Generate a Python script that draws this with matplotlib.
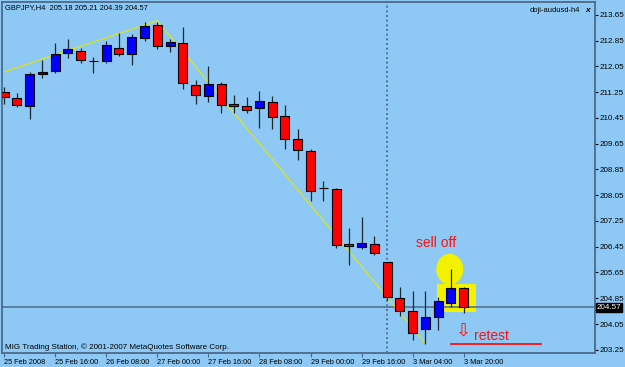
import matplotlib
matplotlib.use("Agg")
import matplotlib.pyplot as plt
from matplotlib.patches import Ellipse, Rectangle

plt.rcParams['font.family'] = ['Liberation Sans', 'DejaVu Sans']

# GBPJPY H4 candles
opens = [211.27, 211.08, 210.82, 211.81, 211.92, 212.46, 212.52, 212.23, 212.23, 212.62,
         212.43, 212.93, 213.34, 212.67, 212.77, 211.48, 211.14, 211.50, 210.88, 210.82,
         210.75, 210.96, 210.50, 209.79, 209.42, 208.27, 208.25, 206.53, 206.45, 206.53,
         205.97, 204.87, 204.44, 203.90, 204.28, 204.70, 205.18]
highs = [211.41, 211.23, 211.88, 212.25, 212.79, 212.90, 212.63, 212.35, 212.85, 213.08,
         213.06, 213.44, 213.44, 212.90, 213.27, 211.63, 212.07, 211.57, 211.17, 211.10,
         211.29, 211.13, 210.85, 210.11, 209.48, 208.49, 208.27, 207.03, 207.37, 206.79,
         205.98, 205.21, 205.06, 205.06, 204.90, 205.75, 205.21]
lows = [210.89, 210.79, 210.43, 211.70, 211.86, 212.31, 212.17, 211.86, 212.17, 212.38,
        212.10, 212.85, 212.58, 212.49, 211.34, 210.88, 210.93, 210.60, 210.60, 210.60,
        210.13, 210.10, 209.48, 209.15, 207.88, 207.88, 206.40, 205.89, 206.38, 206.20,
        204.80, 204.30, 203.54, 203.43, 203.87, 204.59, 204.39]
closes = [211.09, 210.86, 211.80, 211.88, 212.42, 212.59, 212.24, 212.23, 212.72, 212.43,
          212.97, 213.32, 212.67, 212.80, 211.53, 211.17, 211.50, 210.86, 210.82, 210.70,
          210.99, 210.49, 209.79, 209.44, 208.19, 208.27, 206.51, 206.48, 206.56, 206.27,
          204.90, 204.46, 203.77, 204.28, 204.75, 205.16, 204.57]

time_pos = [0, 4, 8, 12, 16, 20, 24, 28, 32, 36]
time_labels = ["25 Feb 2008", "25 Feb 16:00", "26 Feb 08:00", "27 Feb 00:00", "27 Feb 16:00",
               "28 Feb 08:00", "29 Feb 00:00", "29 Feb 16:00", "3 Mar 04:00", "3 Mar 20:00"]
price_ticks = [213.65, 212.85, 212.05, 211.25, 210.45, 209.65, 208.85, 208.05,
               207.25, 206.45, 205.65, 204.85, 204.05, 203.25]

# hand drawn trend line (bar index, price)
trend_x = [-0.1, 12, 33]
trend_y = [211.87, 213.47, 203.45]

bg = '#8dc9f4'
frame = '#4a6a8a'

fig = plt.figure(figsize=(6.25, 3.67), dpi=100, facecolor=bg)
ax = fig.add_axes([2 / 625, 14 / 367, 593 / 625, 351 / 367], facecolor=bg)
ax.set_xlim(-0.16, 46.28)
ax.set_ylim(203.15, 214.05)

# yellow highlight behind the last two candles
ax.add_patch(Rectangle((33.93, 204.41), 3.03, 0.88, facecolor='#f2f200', edgecolor='none', zorder=1))
ax.add_patch(Ellipse((34.9, 205.75), 2.11, 0.96, facecolor='#f2f200', edgecolor='none', zorder=1))

ax.axhline(closes[-1], color=frame, lw=1.1, zorder=2)
ax.axvline(30, color=frame, lw=1.2, ls=(0, (1.2, 1.6)), zorder=2)
ax.plot(trend_x, trend_y, color='#e6e600', lw=0.8, zorder=2)

for i in range(len(opens)):
    o, h, l, c = opens[i], highs[i], lows[i], closes[i]
    ax.vlines(i, l, h, color='#1e2630', lw=0.9, zorder=3)
    if c > o:
        col = '#0000ff'
    elif c < o:
        col = '#ff0000'
    else:
        col = 'black'
    ax.bar(i, abs(c - o), bottom=min(o, c), width=0.7, color=col,
           edgecolor='black', linewidth=0.8, zorder=4)

for s in ax.spines.values():
    s.set_color(frame)
    s.set_linewidth(1.3)

ax.yaxis.tick_right()
ax.set_yticks(price_ticks)
ax.set_yticklabels([f"{v:.2f}" for v in price_ticks])
ax.tick_params(axis='y', length=2, width=0.8, color='black', pad=1, labelsize=5.8, labelcolor='black')
ax.set_xticks(time_pos)
ax.set_xticklabels(time_labels)
ax.tick_params(axis='x', length=3, width=0.8, color=frame, pad=1, labelsize=5.3, labelcolor='black')
for t in ax.get_xticklabels():
    t.set_horizontalalignment('left')

# current price box
ax.text(1.003, closes[-1], f"{closes[-1]:.2f}", transform=ax.get_yaxis_transform(),
        color='white', fontsize=5.8, va='center', ha='left',
        bbox=dict(boxstyle='square,pad=0.15', fc='black', ec='black'))

fig.text(5 / 625, 1 - 8 / 367, "GBPJPY,H4  205.18 205.21 204.39 204.57",
         fontsize=5.4, va='center', ha='left')
fig.text(580 / 625, 1 - 10 / 367, "doji-audusd-h4", fontsize=5.4, va='center', ha='right')
fig.text(588 / 625, 1 - 10 / 367, "x", fontsize=6, fontweight='bold', style='italic',
         va='center', ha='center')
fig.text(5 / 625, 1 - 347 / 367, "MIG Trading Station, © 2001-2007 MetaQuotes Software Corp.",
         fontsize=5.8, va='center', ha='left')

ax.text(33.8, 206.44, "sell off", color='#ff1010', fontsize=10, ha='center', va='baseline', zorder=5)
ax.text(36.8, 203.54, "retest", color='#ff1010', fontsize=10, ha='left', va='baseline', zorder=5)
ax.text(36.0, 203.84, "⇩", color='#ff1010', fontsize=13, ha='center', va='center',
        family=['DejaVu Sans'], zorder=5)
ax.plot([34.98, 42.03], [203.42, 203.42], color='#ff1010', lw=1.3, zorder=5)

fig.savefig("out.png", dpi=100, facecolor=bg)
